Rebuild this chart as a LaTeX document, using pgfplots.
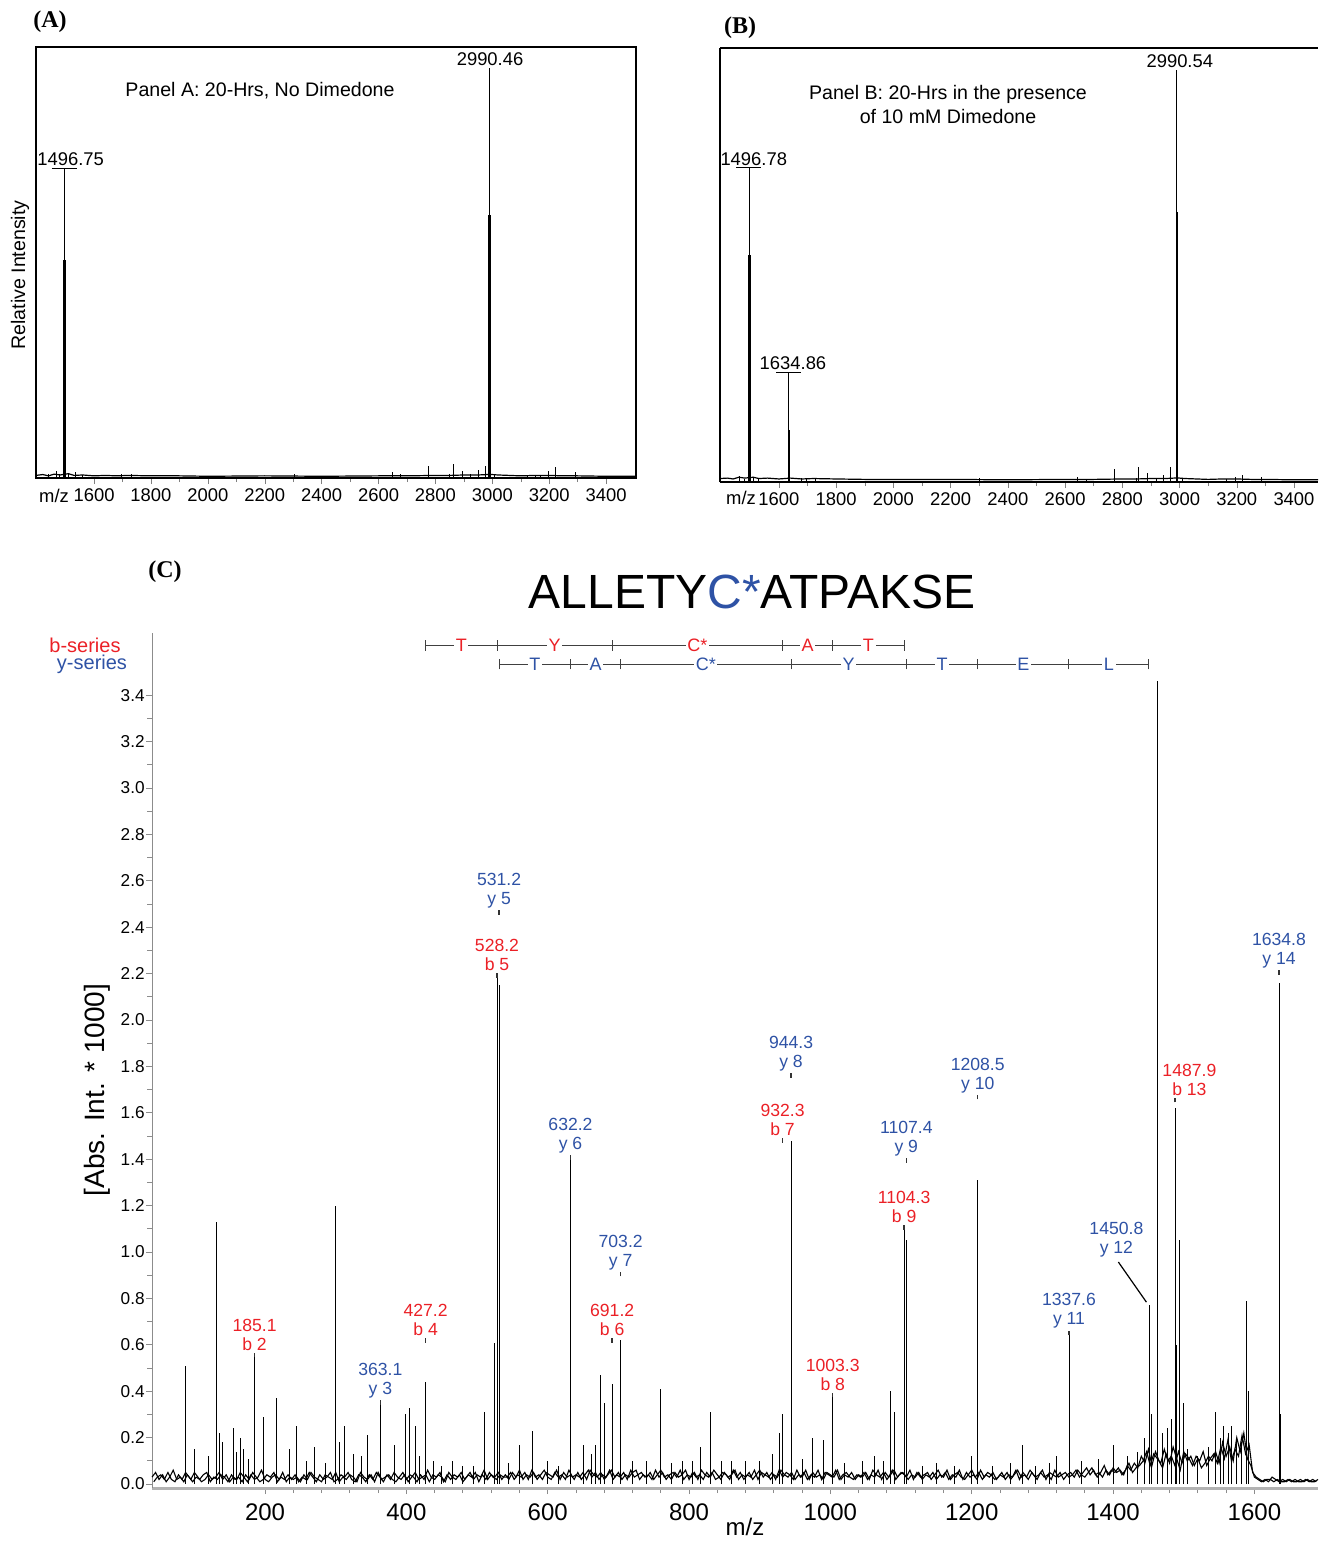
\documentclass[border=0pt]{standalone}
\usepackage{pgfplots}
\pgfplotsset{compat=1.18}
\usepackage{pgfplotstable}
\usepackage{fontspec}
\setmainfont{Liberation Sans}
\newfontfamily\seriffont{Liberation Serif}
\definecolor{bred}{RGB}{235,32,38}
\definecolor{yblue}{RGB}{46,82,165}

\pgfplotstableread{
mz int
1440 0.9
1467 1.7
1480 1.0
1496.75 71.9
1499.5 15
1510 1.2
1534 1.3
1560 0.8
1696 0.9
1730 1.0
2304 0.9
2648 1.5
2677 0.9
2777 2.7
2851 1.0
2863 3.3
2894 1.6
2922 1.0
2950 1.8
2977 2.8
2990.46 95.1
2993.5 20
3009 1.0
3125 0.7
3150 0.7
3170 0.8
3196 1.6
3223 2.6
3291 1.3
3430 0.5
}\peaksA
\pgfplotstableread{
mz int
1497 50.6
2991 61
}\coreA
\pgfplotstableread{
mz int
1462 1.3
1480 0.8
1496.78 72.4
1499.5 15
1510 1.2
1530 0.9
1634.86 25.3
1680 1.0
1695 1.0
1726 0.9
2300 1.0
2644 1.2
2675 0.7
2774 3.0
2850 0.9
2857 3.5
2889 2.0
2921 0.9
2945 1.6
2970 3.4
2990.54 94.9
2993.5 20
3010 0.9
3165 0.7
3194 1.2
3219 1.7
3288 1.2
}\peaksB
\pgfplotstableread{
mz int
1497 52.3
1635.3 12
2991 62.2
}\coreB
\pgfplotstableread{
mz int
88 0.51
100 0.15
120 0.12
131 1.13
136 0.22
140 0.18
155 0.24
160 0.14
165 0.20
170 0.15
177 0.11
185.1 0.55
198 0.29
216 0.37
235 0.15
245 0.25
258 0.10
270 0.16
285 0.09
299 1.20
305 0.18
312 0.25
325 0.13
336 0.12
345 0.21
363.1 0.35
383 0.17
398 0.30
405 0.33
413 0.25
419 0.12
427.2 0.44
438 0.10
450 0.08
465 0.10
480 0.08
495 0.08
510 0.31
525 0.61
528.2 2.20
531.2 2.15
545 0.09
560 0.17
578 0.23
600 0.10
615 0.08
632.2 1.41
650 0.17
662 0.13
667 0.17
675 0.47
680 0.35
691.2 0.43
703.2 0.62
720 0.10
740 0.10
759 0.41
775 0.09
790 0.10
805 0.10
816 0.16
830 0.31
846 0.10
860 0.10
880 0.10
900 0.10
918 0.13
928 0.22
932.3 0.30
944.3 1.48
960 0.11
975 0.20
990 0.19
1003.3 0.39
1020 0.09
1045 0.10
1062 0.12
1075 0.10
1085 0.40
1090 0.31
1104.3 1.10
1107.4 1.05
1130 0.08
1150 0.09
1175 0.08
1200 0.12
1208.5 1.31
1230 0.08
1255 0.09
1272 0.17
1290 0.08
1310 0.09
1320 0.12
1337.6 0.65
1355 0.10
1380 0.11
1400 0.17
1420 0.12
1435 0.14
1445 0.20
1450.8 0.77
1455 0.30
1462.5 3.46
1470 0.22
1477 0.24
1483 0.28
1487.9 1.62
1490 0.60
1493.8 1.05
1500 0.35
1505 0.15
1520 0.12
1535 0.16
1545 0.31
1552 0.20
1556 0.25
1563 0.22
1568 0.25
1575 0.20
1582 0.18
1589 0.79
1592 0.40
1634.8 2.16
1637 0.30
}\peaksC

% #1 peak x, #2 tick y, #3 value, #4 ion, #5 colour, #6 label x
\newcommand{\annx}[6]{%
  \draw[black!80, line width=0.7pt] (axis cs:#1,#2) ++(0pt,-1.2pt) -- ++(0pt,2.4pt);
  \node[anchor=south, yshift=2pt, align=center, text=#5, inner sep=0pt, font=\fontsize{8.8}{9.5}\selectfont] at (axis cs:#6,#2) {#3\\#4};
}
\newcommand{\ann}[5]{\annx{#1}{#2}{#3}{#4}{#5}{#1}}
\newcommand{\bnd}[2]{\draw[black!75, line width=0.5pt] (axis cs:#1,#2) ++(0pt,-2.6pt) -- ++(0pt,5.2pt);}
\newcommand{\lad}[4]{\node[fill=white, inner sep=0.8pt, text=#4, font=\fontsize{9}{9}\selectfont] at (axis cs:#1,#2) {#3};}

\begin{document}
\begin{tikzpicture}
\path[use as bounding box] (0,0) rectangle (659pt,-770.5pt);

% ---------- Panel A ----------
\begin{axis}[at={(18pt,-239pt)}, anchor=south west, scale only axis,
  width=300pt, height=215.5pt,
  xmin=1396, xmax=3505, ymin=0, ymax=100,
  xtick={1600,1800,...,3400}, minor x tick num=1, ytick=\empty,
  xtick pos=left, tick align=outside, major tick length=3pt, minor tick length=2pt,
  axis line style={line width=0.6pt},
  xticklabel style={font=\fontsize{9.2}{10}\selectfont, yshift=1pt},
  /pgf/number format/assume math mode=true,
  /pgf/number format/1000 sep={},
  clip=false]
\addplot[black, line width=0.6pt] coordinates {(1396,0.6)(1420,0.8)(1440,0.5)(1460,0.9)(1480,0.7)(1510,1.0)(1530,0.6)(1560,0.7)(1600,0.5)(1640,0.6)(1680,0.5)(1720,0.6)(1800,0.5)(1900,0.5)(2000,0.4)(2200,0.5)(2400,0.4)(2600,0.5)(2700,0.5)(2800,0.6)(2850,0.6)(2900,0.7)(2950,0.7)(2980,0.8)(3000,0.8)(3020,0.7)(3060,0.6)(3100,0.5)(3150,0.6)(3200,0.6)(3250,0.5)(3300,0.5)(3400,0.4)(3505,0.4)};
\addplot[ycomb, black, line width=0.5pt, mark=none] table[x=mz,y=int] {\peaksA};
\addplot[ycomb, black, line width=1.3pt, mark=none] table[x=mz,y=int] {\coreA};
\draw[black, line width=0.5pt] (axis cs:1452,71.9) -- (axis cs:1541,71.9);
\node[anchor=south, inner sep=1pt, font=\fontsize{9.2}{10}\selectfont] at (axis cs:1518,71.9) {1496.75};
\node[anchor=south, inner sep=1pt, font=\fontsize{9.2}{10}\selectfont] at (axis cs:2992,95.1) {2990.46};
\end{axis}
\node[font=\fontsize{9.8}{11}\selectfont] at (130pt,-45.5pt) {Panel A: 20-Hrs, No Dimedone};
\node[rotate=90, font=\fontsize{9.8}{11}\selectfont] at (10pt,-137.5pt) {Relative Intensity};
\node[font=\fontsize{9.2}{10}\selectfont] at (27pt,-247.8pt) {m/z};
\node[font=\seriffont\bfseries\fontsize{12}{13}\selectfont] at (25pt,-11pt) {(A)};

% ---------- Panel B ----------
\begin{axis}[at={(360pt,-241pt)}, anchor=south west, scale only axis,
  width=299pt, height=217pt,
  xmin=1394, xmax=3484, ymin=0, ymax=100,
  axis x line*=box, axis y line*=left, axis line style={-, line width=0.6pt},
  xtick={1600,1800,...,3400}, minor x tick num=1, ytick=\empty,
  xtick pos=left, tick align=outside, major tick length=3pt, minor tick length=2pt,
  xticklabel style={font=\fontsize{9.2}{10}\selectfont, yshift=1.2pt},
  /pgf/number format/assume math mode=true,
  /pgf/number format/1000 sep={},
  clip=false]
\addplot[black, line width=0.6pt] coordinates {(1394,0.8)(1420,0.9)(1440,0.7)(1460,1.1)(1480,0.9)(1510,1.1)(1530,0.8)(1560,0.9)(1600,0.7)(1640,0.9)(1680,0.7)(1720,0.8)(1800,0.7)(1900,0.6)(2000,0.6)(2200,0.6)(2400,0.5)(2600,0.6)(2700,0.6)(2800,0.7)(2850,0.7)(2900,0.8)(2950,0.8)(2980,0.9)(3000,0.9)(3020,0.8)(3060,0.7)(3100,0.6)(3150,0.7)(3200,0.7)(3250,0.6)(3300,0.6)(3400,0.5)(3484,0.5)};
\addplot[ycomb, black, line width=0.5pt, mark=none] table[x=mz,y=int] {\peaksB};
\addplot[ycomb, black, line width=1.3pt, mark=none] table[x=mz,y=int] {\coreB};
\draw[black, line width=0.5pt] (axis cs:1451,72.4) -- (axis cs:1539,72.4);
\node[anchor=south, inner sep=1pt, font=\fontsize{9.2}{10}\selectfont] at (axis cs:1512,72.4) {1496.78};
\draw[black, line width=0.5pt] (axis cs:1590,25.3) -- (axis cs:1678,25.3);
\node[anchor=south, inner sep=1pt, font=\fontsize{9.2}{10}\selectfont] at (axis cs:1649,25.3) {1634.86};
\node[anchor=south, inner sep=1pt, font=\fontsize{9.2}{10}\selectfont] at (axis cs:3001,94.9) {2990.54};
\end{axis}
\node[align=center, font=\fontsize{9.8}{12}\selectfont] at (474pt,-52pt) {Panel B: 20-Hrs in the presence\\of 10 mM Dimedone};
\node[font=\fontsize{9.2}{10}\selectfont] at (370.5pt,-248.8pt) {m/z};
\node[font=\seriffont\bfseries\fontsize{12}{13}\selectfont] at (370pt,-14pt) {(B)};

% ---------- Panel C ----------
\begin{axis}[at={(76pt,-744pt)}, anchor=south west, scale only axis,
  width=583pt, height=427.5pt,
  xmin=40, xmax=1690, ymin=-0.017, ymax=3.668,
  axis x line*=bottom, axis y line*=left, axis line style={-},
  x axis line style={draw=black!30, line width=1.5pt},
  y axis line style={draw=black!45, line width=0.5pt},
  xtick={200,400,...,1600}, minor x tick num=4,
  ytick={0,0.2,0.4,0.6,0.8,1.0,1.2,1.4,1.6,1.8,2.0,2.2,2.4,2.6,2.8,3.0,3.2,3.4},
  minor y tick num=1,
  tick align=outside, major tick length=3pt, minor tick length=2.5pt,
  tick style={black!45, line width=0.5pt},
  xticklabel style={font=\fontsize{12}{12}\selectfont, yshift=-1.2pt},
  yticklabel style={font=\fontsize{8.6}{9}\selectfont, inner sep=0pt, xshift=-0.5pt,
    /pgf/number format/fixed, /pgf/number format/fixed zerofill, /pgf/number format/precision=1},
  /pgf/number format/assume math mode=true,
  /pgf/number format/1000 sep={},
  clip=false]
\addplot[black, line width=0.55pt] coordinates {
(40,0.03)(45,0.05)(50,0.02)(55,0.04)(60,0.01)(65,0.03)(70,0.06)(75,0.02)(80,0.03)(85,0.01)(90,0.04)(95,0.02)(100,0.05)(105,0.03)(110,0.01)(115,0.02)(120,0.04)(125,0.02)(130,0.03)(135,0.05)
(140,0.02)(145,0.04)(150,0.01)(155,0.03)(160,0.02)(165,0.05)(170,0.03)(175,0.01)(180,0.04)(185,0.02)(190,0.03)(195,0.06)(200,0.02)(205,0.01)(210,0.03)(215,0.04)(220,0.02)(225,0.05)(230,0.01)(235,0.03)
(240,0.02)(245,0.03)(250,0.01)(255,0.04)(260,0.02)(265,0.05)(270,0.03)(275,0.02)(280,0.01)(285,0.04)(290,0.03)(295,0.02)(300,0.05)(305,0.01)(310,0.03)(315,0.02)(320,0.04)(325,0.03)(330,0.01)(335,0.05)
(340,0.03)(345,0.02)(350,0.04)(355,0.01)(360,0.05)(365,0.02)(370,0.03)(375,0.04)(380,0.02)(385,0.01)(390,0.03)(395,0.05)(400,0.02)(405,0.04)(410,0.03)(415,0.01)(420,0.04)(425,0.02)(430,0.06)(435,0.03)
(440,0.02)(445,0.04)(450,0.03)(455,0.01)(460,0.05)(465,0.03)(470,0.02)(475,0.04)(480,0.01)(485,0.03)(490,0.05)(495,0.02)(500,0.04)(505,0.03)(510,0.06)(515,0.02)(520,0.04)(525,0.03)(530,0.05)(535,0.02)
(540,0.04)(545,0.02)(550,0.05)(555,0.03)(560,0.06)(565,0.02)(570,0.04)(575,0.03)(580,0.05)(585,0.02)(590,0.04)(595,0.06)(600,0.03)(605,0.02)(610,0.05)(615,0.03)(620,0.04)(625,0.02)(630,0.06)(635,0.03)
(640,0.04)(645,0.03)(650,0.05)(655,0.02)(660,0.06)(665,0.04)(670,0.03)(675,0.05)(680,0.02)(685,0.04)(690,0.06)(695,0.03)(700,0.05)(705,0.02)(710,0.04)(715,0.03)(720,0.05)(725,0.06)(730,0.02)(735,0.04)
(740,0.03)(745,0.05)(750,0.02)(755,0.04)(760,0.06)(765,0.03)(770,0.04)(775,0.02)(780,0.05)(785,0.03)(790,0.04)(795,0.06)(800,0.02)(805,0.05)(810,0.03)(815,0.04)(820,0.02)(825,0.05)(830,0.03)(835,0.06)
(840,0.04)(845,0.02)(850,0.05)(855,0.03)(860,0.04)(865,0.06)(870,0.02)(875,0.04)(880,0.03)(885,0.05)(890,0.02)(895,0.04)(900,0.06)(905,0.03)(910,0.05)(915,0.02)(920,0.04)(925,0.03)(930,0.06)(935,0.04)
(940,0.03)(945,0.05)(950,0.02)(955,0.04)(960,0.03)(965,0.06)(970,0.02)(975,0.05)(980,0.03)(985,0.04)(990,0.02)(995,0.05)(1000,0.04)(1005,0.03)(1010,0.06)(1015,0.02)(1020,0.04)(1025,0.03)(1030,0.05)(1035,0.02)
(1040,0.04)(1045,0.03)(1050,0.05)(1055,0.02)(1060,0.06)(1065,0.04)(1070,0.03)(1075,0.05)(1080,0.02)(1085,0.04)(1090,0.06)(1095,0.03)(1100,0.05)(1105,0.04)(1110,0.02)(1115,0.04)(1120,0.03)(1125,0.05)(1130,0.02)(1135,0.04)
(1140,0.03)(1145,0.05)(1150,0.02)(1155,0.04)(1160,0.03)(1165,0.06)(1170,0.02)(1175,0.04)(1180,0.05)(1185,0.03)(1190,0.02)(1195,0.04)(1200,0.06)(1205,0.03)(1210,0.05)(1215,0.02)(1220,0.04)(1225,0.03)(1230,0.05)(1235,0.02)
(1240,0.04)(1245,0.03)(1250,0.05)(1255,0.02)(1260,0.04)(1265,0.06)(1270,0.03)(1275,0.04)(1280,0.02)(1285,0.05)(1290,0.03)(1295,0.04)(1300,0.06)(1305,0.02)(1310,0.05)(1315,0.04)(1320,0.03)(1325,0.05)(1330,0.02)(1335,0.04)
(1340,0.05)(1345,0.03)(1350,0.06)(1355,0.04)(1360,0.03)(1365,0.05)(1370,0.07)(1375,0.04)(1380,0.05)(1385,0.03)(1390,0.06)(1395,0.04)(1400,0.07)(1405,0.05)(1410,0.06)(1415,0.04)(1420,0.08)(1425,0.06)(1430,0.09)(1435,0.07)
(1440,0.12)(1445,0.09)(1450,0.15)(1455,0.08)(1460,0.14)(1465,0.10)(1470,0.07)(1475,0.13)(1480,0.09)(1485,0.16)(1490,0.11)(1495,0.06)(1500,0.14)(1505,0.10)(1510,0.12)(1515,0.08)(1520,0.11)(1525,0.07)(1530,0.09)(1535,0.12)
(1540,0.10)(1545,0.14)(1550,0.09)(1555,0.18)(1560,0.12)(1565,0.16)(1570,0.10)(1575,0.20)(1580,0.14)(1585,0.22)(1590,0.11)(1595,0.08)(1600,0.03)(1605,0.02)(1610,0.01)(1615,0.02)(1620,0.01)(1625,0.03)(1630,0.02)(1635,0.01)
(1640,0.02)(1645,0.01)(1650,0.02)(1655,0.01)(1660,0.01)(1665,0.02)(1670,0.01)(1675,0.02)(1680,0.01)(1685,0.01)(1690,0.02)};
\addplot[black, line width=0.55pt] coordinates {
(42.5,0.01)(47.5,0.03)(52.5,0.04)(57.5,0.02)(62.5,0.05)(67.5,0.02)(72.5,0.01)(77.5,0.04)(82.5,0.02)(87.5,0.05)(92.5,0.03)(97.5,0.01)(102.5,0.03)(107.5,0.02)(112.5,0.04)(117.5,0.05)(122.5,0.01)(127.5,0.03)(132.5,0.02)(137.5,0.04)
(142.5,0.03)(147.5,0.01)(152.5,0.04)(157.5,0.02)(162.5,0.03)(167.5,0.01)(172.5,0.04)(177.5,0.02)(182.5,0.05)(187.5,0.03)(192.5,0.01)(197.5,0.02)(202.5,0.04)(207.5,0.03)(212.5,0.05)(217.5,0.01)(222.5,0.03)(227.5,0.02)(232.5,0.04)(237.5,0.02)
(242.5,0.04)(247.5,0.01)(252.5,0.03)(257.5,0.02)(262.5,0.05)(267.5,0.03)(272.5,0.01)(277.5,0.04)(282.5,0.02)(287.5,0.03)(292.5,0.05)(297.5,0.01)(302.5,0.02)(307.5,0.04)(312.5,0.03)(317.5,0.05)(322.5,0.02)(327.5,0.01)(332.5,0.04)(337.5,0.03)
(342.5,0.01)(347.5,0.04)(352.5,0.02)(357.5,0.05)(362.5,0.03)(367.5,0.01)(372.5,0.04)(377.5,0.02)(382.5,0.05)(387.5,0.03)(392.5,0.02)(397.5,0.04)(402.5,0.01)(407.5,0.03)(412.5,0.05)(417.5,0.02)(422.5,0.03)(427.5,0.04)(432.5,0.01)(437.5,0.04)
(442.5,0.03)(447.5,0.05)(452.5,0.01)(457.5,0.04)(462.5,0.02)(467.5,0.04)(472.5,0.03)(477.5,0.05)(482.5,0.02)(487.5,0.04)(492.5,0.03)(497.5,0.05)(502.5,0.01)(507.5,0.04)(512.5,0.02)(517.5,0.05)(522.5,0.03)(527.5,0.02)(532.5,0.04)(537.5,0.03)
(542.5,0.03)(547.5,0.05)(552.5,0.02)(557.5,0.04)(562.5,0.03)(567.5,0.05)(572.5,0.02)(577.5,0.06)(582.5,0.03)(587.5,0.04)(592.5,0.02)(597.5,0.05)(602.5,0.04)(607.5,0.03)(612.5,0.06)(617.5,0.02)(622.5,0.05)(627.5,0.03)(632.5,0.04)(637.5,0.02)
(642.5,0.05)(647.5,0.02)(652.5,0.04)(657.5,0.06)(662.5,0.03)(667.5,0.05)(672.5,0.02)(677.5,0.04)(682.5,0.03)(687.5,0.06)(692.5,0.02)(697.5,0.04)(702.5,0.03)(707.5,0.05)(712.5,0.02)(717.5,0.06)(722.5,0.03)(727.5,0.04)(732.5,0.05)(737.5,0.03)
(742.5,0.04)(747.5,0.02)(752.5,0.06)(757.5,0.03)(762.5,0.05)(767.5,0.02)(772.5,0.04)(777.5,0.05)(782.5,0.03)(787.5,0.06)(792.5,0.02)(797.5,0.04)(802.5,0.03)(807.5,0.05)(812.5,0.02)(817.5,0.06)(822.5,0.04)(827.5,0.03)(832.5,0.05)(837.5,0.02)
(842.5,0.03)(847.5,0.05)(852.5,0.04)(857.5,0.02)(862.5,0.06)(867.5,0.03)(872.5,0.05)(877.5,0.02)(882.5,0.04)(887.5,0.03)(892.5,0.06)(897.5,0.02)(902.5,0.05)(907.5,0.04)(912.5,0.03)(917.5,0.05)(922.5,0.02)(927.5,0.06)(932.5,0.03)(937.5,0.05)
(942.5,0.04)(947.5,0.02)(952.5,0.06)(957.5,0.03)(962.5,0.05)(967.5,0.02)(972.5,0.04)(977.5,0.03)(982.5,0.06)(987.5,0.02)(992.5,0.05)(997.5,0.04)(1002.5,0.03)(1007.5,0.06)(1012.5,0.02)(1017.5,0.04)(1022.5,0.05)(1027.5,0.03)(1032.5,0.02)(1037.5,0.04)
(1042.5,0.03)(1047.5,0.05)(1052.5,0.02)(1057.5,0.04)(1062.5,0.03)(1067.5,0.06)(1072.5,0.02)(1077.5,0.05)(1082.5,0.03)(1087.5,0.06)(1092.5,0.02)(1097.5,0.04)(1102.5,0.05)(1107.5,0.03)(1112.5,0.06)(1117.5,0.02)(1122.5,0.05)(1127.5,0.03)(1132.5,0.04)(1137.5,0.05)
(1142.5,0.02)(1147.5,0.04)(1152.5,0.06)(1157.5,0.03)(1162.5,0.05)(1167.5,0.02)(1172.5,0.04)(1177.5,0.03)(1182.5,0.06)(1187.5,0.02)(1192.5,0.05)(1197.5,0.03)(1202.5,0.04)(1207.5,0.02)(1212.5,0.06)(1217.5,0.03)(1222.5,0.05)(1227.5,0.04)(1232.5,0.02)(1237.5,0.03)
(1242.5,0.05)(1247.5,0.02)(1252.5,0.04)(1257.5,0.03)(1262.5,0.06)(1267.5,0.02)(1272.5,0.05)(1277.5,0.03)(1282.5,0.06)(1287.5,0.04)(1292.5,0.02)(1297.5,0.05)(1302.5,0.03)(1307.5,0.04)(1312.5,0.02)(1317.5,0.06)(1322.5,0.03)(1327.5,0.04)(1332.5,0.05)(1337.5,0.03)
(1342.5,0.04)(1347.5,0.06)(1352.5,0.03)(1357.5,0.05)(1362.5,0.07)(1367.5,0.04)(1372.5,0.06)(1377.5,0.03)(1382.5,0.05)(1387.5,0.08)(1392.5,0.04)(1397.5,0.06)(1402.5,0.05)(1407.5,0.07)(1412.5,0.04)(1417.5,0.06)(1422.5,0.09)(1427.5,0.05)(1432.5,0.07)(1437.5,0.08)
(1442.5,0.10)(1447.5,0.14)(1452.5,0.08)(1457.5,0.13)(1462.5,0.11)(1467.5,0.09)(1472.5,0.15)(1477.5,0.10)(1482.5,0.12)(1487.5,0.08)(1492.5,0.14)(1497.5,0.09)(1502.5,0.13)(1507.5,0.11)(1512.5,0.08)(1517.5,0.12)(1522.5,0.10)(1527.5,0.14)(1532.5,0.08)(1537.5,0.11)
(1542.5,0.13)(1547.5,0.09)(1552.5,0.16)(1557.5,0.11)(1562.5,0.19)(1567.5,0.10)(1572.5,0.15)(1577.5,0.12)(1582.5,0.21)(1587.5,0.13)(1592.5,0.17)(1597.5,0.05)(1602.5,0.03)(1607.5,0.02)(1612.5,0.01)(1617.5,0.02)(1622.5,0.02)(1627.5,0.01)(1632.5,0.02)(1637.5,0.01)
(1642.5,0.01)(1647.5,0.02)(1652.5,0.01)(1657.5,0.02)(1662.5,0.01)(1667.5,0.01)(1672.5,0.02)(1677.5,0.01)(1682.5,0.02)(1687.5,0.01)};
\addplot[ycomb, black, line width=0.45pt, mark=none] table[x=mz,y=int] {\peaksC};
% sequence ladder
\draw[black!75, line width=0.5pt] (axis cs:427.2,3.615) -- (axis cs:1104.3,3.615);
\bnd{427.2}{3.615}\bnd{528.2}{3.615}\bnd{691.2}{3.615}\bnd{932.3}{3.615}\bnd{1003.3}{3.615}\bnd{1104.3}{3.615}
\lad{477.7}{3.615}{T}{bred}\lad{609.7}{3.615}{Y}{bred}\lad{811.75}{3.615}{C*}{bred}\lad{967.8}{3.615}{A}{bred}\lad{1053.8}{3.615}{T}{bred}
\draw[black!75, line width=0.5pt] (axis cs:531.2,3.534) -- (axis cs:1450.8,3.534);
\bnd{531.2}{3.534}\bnd{632.2}{3.534}\bnd{703.2}{3.534}\bnd{944.3}{3.534}\bnd{1107.4}{3.534}\bnd{1208.5}{3.534}\bnd{1337.6}{3.534}\bnd{1450.8}{3.534}
\lad{581.7}{3.534}{T}{yblue}\lad{667.7}{3.534}{A}{yblue}\lad{823.75}{3.534}{C*}{yblue}\lad{1025.85}{3.534}{Y}{yblue}\lad{1157.95}{3.534}{T}{yblue}\lad{1273.05}{3.534}{E}{yblue}\lad{1394.2}{3.534}{L}{yblue}
% peak annotations
\ann{185.1}{0.556}{185.1}{b 2}{bred}
\ann{363.1}{0.353}{363.1}{y 3}{yblue}
\ann{427.2}{0.62}{427.2}{b 4}{bred}
\ann{528.2}{2.193}{528.2}{b 5}{bred}
\ann{531.2}{2.465}{531.2}{y 5}{yblue}
\ann{632.2}{1.409}{632.2}{y 6}{yblue}
\ann{691.2}{0.62}{691.2}{b 6}{bred}
\ann{703.2}{0.905}{703.2}{y 7}{yblue}
\ann{932.3}{1.482}{932.3}{b 7}{bred}
\ann{944.3}{1.762}{944.3}{y 8}{yblue}
\ann{1003.3}{0.384}{1003.3}{b 8}{bred}
\ann{1104.3}{1.107}{1104.3}{b 9}{bred}
\ann{1107.4}{1.396}{1107.4}{y 9}{yblue}
\ann{1208.5}{1.668}{1208.5}{y 10}{yblue}
\ann{1337.6}{0.651}{1337.6}{y 11}{yblue}
\annx{1487.9}{1.655}{1487.9}{b 13}{bred}{1508}
\ann{1634.8}{2.206}{1634.8}{y 14}{yblue}
\node[anchor=south, align=center, text=yblue, inner sep=0pt, font=\fontsize{8.8}{9.5}\selectfont] at (axis cs:1404.7,0.975) {1450.8\\y 12};
\draw[black, line width=0.6pt] (axis cs:1407.5,0.957) -- (axis cs:1447.2,0.784);
\end{axis}
\node[font=\fontsize{12}{13}\selectfont] at (372.5pt,-763.5pt) {m/z};
\node[rotate=90, font=\fontsize{14}{15}\selectfont] at (48.5pt,-545pt) {[Abs. Int. * 1000]};
\node[font=\fontsize{24}{26}\selectfont] at (376pt,-296pt) {ALLETY\textcolor{yblue}{C*}ATPAKSE};
\node[text=bred, font=\fontsize{10}{11}\selectfont] at (42.5pt,-322.5pt) {b-series};
\node[text=yblue, font=\fontsize{10}{11}\selectfont] at (46pt,-332pt) {y-series};
\node[font=\seriffont\bfseries\fontsize{12}{13}\selectfont] at (82.5pt,-286pt) {(C)};
\end{tikzpicture}
\end{document}
